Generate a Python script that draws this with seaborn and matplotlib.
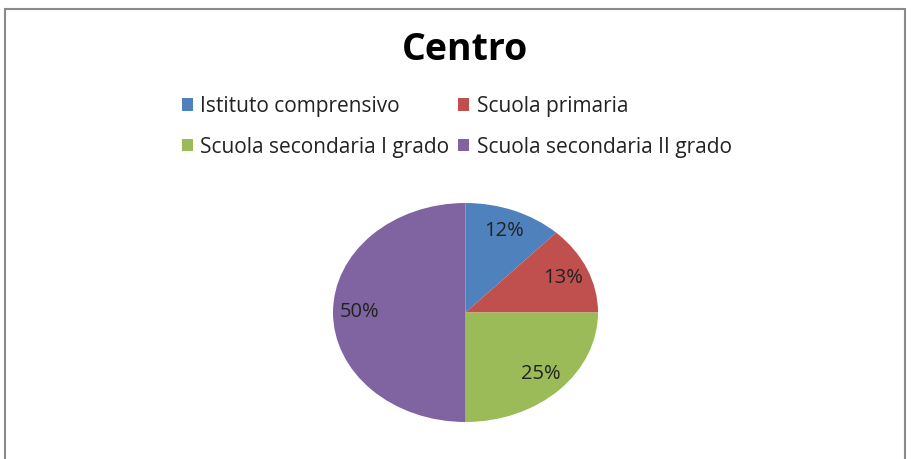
import matplotlib
matplotlib.use("Agg")
import matplotlib.pyplot as plt
from matplotlib.patches import Rectangle, Patch
import seaborn as sns

categories = [
    "Istituto comprensivo",
    "Scuola primaria",
    "Scuola secondaria I grado",
    "Scuola secondaria II grado",
]
values = [12, 13, 25, 50]
colors = ["#4F81BD", "#C0504D", "#9BBB59", "#8064A2"]

sns.set_theme(style="white")
plt.rcParams["font.family"] = ["Open Sans", "DejaVu Sans"]

W, H = 912, 459
fig = plt.figure(figsize=(W / 100, H / 100), dpi=100)
fig.patch.set_facecolor("white")

# outer chart frame (bottom edge is cut off in the original)
fig.patches.append(
    Rectangle((5 / W, -0.05), 900 / W, 1.05 - 9 / H, transform=fig.transFigure,
              fill=False, edgecolor="#8a8a8a", linewidth=1.5)
)

fig.text(465 / W, 1 - 50 / H, "Centro", ha="center", va="center",
         fontsize=27, fontweight="bold", color="black")

# pie is drawn slightly stretched horizontally like the original
ax = fig.add_axes([333 / W, 37 / H, 265 / W, 219 / H])
wedges, texts, autotexts = ax.pie(
    values,
    colors=colors,
    startangle=90,
    counterclock=False,
    autopct="%d%%",
    pctdistance=0.8,
    wedgeprops={"linewidth": 0},
    textprops={"fontsize": 14.5, "color": "#222222"},
)
ax.set_aspect("auto")
ax.set_xlim(-1, 1)
ax.set_ylim(-1, 1)
ax.axis("off")

# legend fills row by row in the original: reorder for column-first layout
order = [0, 2, 1, 3]
handles = [Patch(facecolor=colors[i], edgecolor="none") for i in order]
labels = [categories[i] for i in order]
fig.legend(
    handles,
    labels,
    ncol=2,
    loc="upper left",
    bbox_to_anchor=(163 / W, 1 - 77 / H),
    frameon=False,
    fontsize=15,
    handlelength=0.55,
    handleheight=0.55,
    handletextpad=0.35,
    columnspacing=0.4,
    labelspacing=0.95,
    labelcolor="#222222",
)

fig.savefig("out.png", dpi=100)
